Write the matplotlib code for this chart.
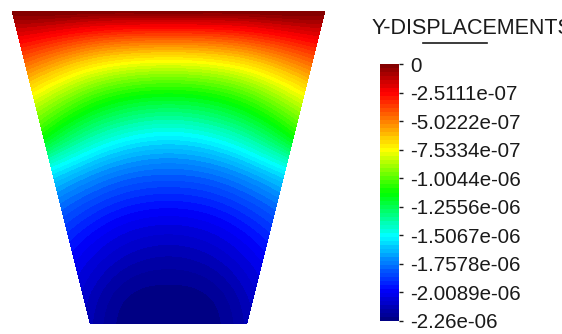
import numpy as np
import matplotlib
matplotlib.use('Agg')
import matplotlib.pyplot as plt
import matplotlib.tri as mtri
from matplotlib.lines import Line2D
from matplotlib.colors import LinearSegmentedColormap

plt.rcParams['font.family'] = ['Liberation Sans', 'DejaVu Sans']

# ---------------- data ----------------
# stations from top (0) to bottom (1) of the trapezoid
depth_frac = [0.0, 0.1, 0.2, 0.3, 0.4, 0.5, 0.6, 0.7, 0.8, 0.9, 1.0]
# lateral stations: left edge, half-way, centre, half-way, right edge
lateral_frac = [-1.0, -0.5, 0.0, 0.5, 1.0]
# Y-displacement along the side edges, half-way lines and centre line
uy_edge = [0.0, -0.2712e-06, -0.5650e-06, -0.8588e-06, -1.1300e-06, -1.4916e-06,
           -1.7402e-06, -1.8984e-06, -2.0114e-06, -2.0905e-06, -2.1470e-06]
uy_mid = [0.0, -0.4407e-06, -0.8317e-06, -1.1486e-06, -1.4265e-06, -1.6932e-06,
          -1.8860e-06, -2.0272e-06, -2.1300e-06, -2.2148e-06, -2.2487e-06]
uy_center = [0.0, -0.4972e-06, -0.9198e-06, -1.2453e-06, -1.5255e-06, -1.7605e-06,
             -1.9346e-06, -2.0702e-06, -2.1696e-06, -2.2374e-06, -2.2600e-06]

uy_min = -2.26e-06
uy_max = 0.0
tick_values = [0.0, -2.5111e-07, -5.0222e-07, -7.5334e-07, -1.0044e-06, -1.2556e-06,
               -1.5067e-06, -1.7578e-06, -2.0089e-06, -2.26e-06]
tick_labels = ['0', '-2.5111e-07', '-5.0222e-07', '-7.5334e-07', '-1.0044e-06',
               '-1.2556e-06', '-1.5067e-06', '-1.7578e-06', '-2.0089e-06', '-2.26e-06']
title_text = 'Y-DISPLACEMENTS'

# rainbow colour scale used by the post-processor
cmap_stops = [0.0, 0.12, 0.23, 0.333, 0.5, 0.667, 0.78, 0.89, 1.0]
cmap_colors = [(0, 0, 0.5), (0, 0, 1), (0, 0.5, 1), (0, 1, 1), (0, 1, 0),
               (1, 1, 0), (1, 0.5, 0), (1, 0, 0), (0.5, 0, 0)]

# ---------------- geometry ----------------
top_half_width = 5.0
bottom_half_width = 2.5
height = 10.0
n_levels = 64

xs, ys, zs = [], [], []
for i, d in enumerate(depth_frac):
    hw = top_half_width + (bottom_half_width - top_half_width) * d
    row = [uy_edge[i], uy_mid[i], uy_center[i], uy_mid[i], uy_edge[i]]
    for j, t in enumerate(lateral_frac):
        xs.append(t * hw)
        ys.append(height * (1 - d))
        zs.append(row[j])
xs = np.array(xs); ys = np.array(ys); zs = np.array(zs)

tri = mtri.Triangulation(xs, ys)
refiner = mtri.UniformTriRefiner(tri)
tri_r, z_r = refiner.refine_field(zs, subdiv=4)
z_r = np.clip(z_r, uy_min, uy_max)

cmap = LinearSegmentedColormap.from_list('rainbow_fe', list(zip(cmap_stops, cmap_colors)))

W, H = 562, 334
fig = plt.figure(figsize=(W / 100, H / 100), dpi=100)
ax = fig.add_axes([12 / W, 10 / H, 313 / W, 313 / H])
levels = np.linspace(uy_min, uy_max, n_levels + 1)
cs = ax.tricontourf(tri_r, z_r, levels=levels, cmap=cmap)
ax.set_xlim(-top_half_width, top_half_width)
ax.set_ylim(0, height)
ax.axis('off')

cax = fig.add_axes([380 / W, (H - 321) / H, 19 / W, 257 / H])
cb = fig.colorbar(cs, cax=cax, ticks=tick_values)
cb.set_ticklabels(tick_labels)
cb.outline.set_visible(False)
cax.tick_params(length=3, width=1, pad=5, labelsize=14.8, colors='#1a1a1a')

fig.text(372 / W, 1 - 28 / H, title_text, fontsize=15.5, va='center', ha='left',
         color='#1a1a1a')
fig.add_artist(Line2D([423 / W, 487 / W], [1 - 43 / H, 1 - 43 / H],
                      color='#1a1a1a', lw=1.2, transform=fig.transFigure))

fig.savefig('out.png', dpi=100)
